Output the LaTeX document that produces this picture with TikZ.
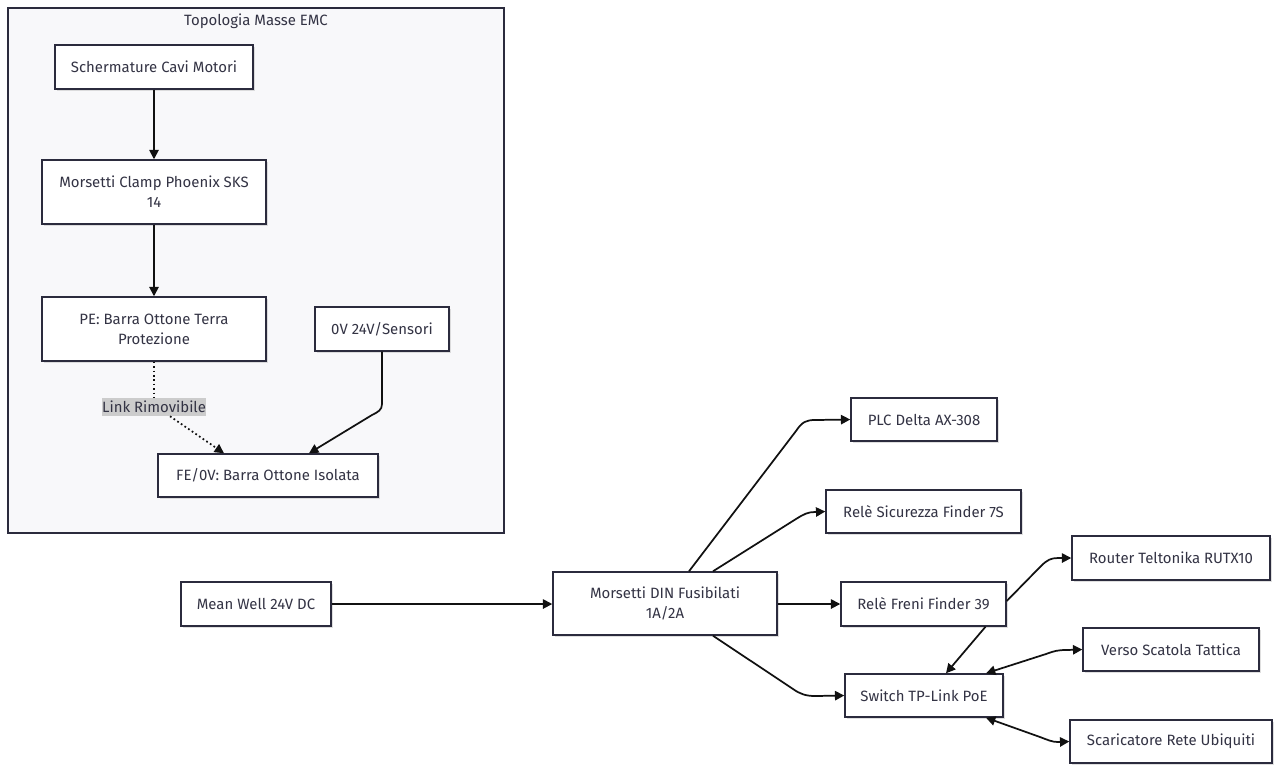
\documentclass[tikz,border=0pt]{standalone}
\usepackage{fontspec}
\setmainfont{Fira Sans}
\usetikzlibrary{calc,arrows.meta,shadows}
\definecolor{edgec}{HTML}{111111}
\definecolor{boxc}{HTML}{2B2B3D}
\definecolor{txtc}{HTML}{333344}
\definecolor{clfill}{HTML}{F8F8FA}
\definecolor{lblbg}{HTML}{CCCCCC}
\tikzset{
  sz/.style 2 args={minimum width=#1*0.75pt, minimum height=#2*0.75pt},
  box/.style={draw=boxc, line width=1.1pt, fill=white, inner sep=0pt, align=center,
    text=txtc, font=\fontsize{11.2}{15}\selectfont,
    drop shadow={shadow xshift=1.2pt, shadow yshift=-1.2pt, fill=black!25, opacity=0.5}},
  cluster/.style={draw=boxc, line width=1.1pt, fill=clfill, inner sep=0pt},
  arr/.style={draw=edgec, line width=1.3pt, -{Triangle[length=7pt,width=7pt]}},
  biarr/.style={draw=edgec, line width=1.3pt, {Triangle[length=7pt,width=7pt]}-{Triangle[length=7pt,width=7pt]}},
  dotarr/.style={draw=edgec, line width=1.3pt, dotted, -{Triangle[length=7pt,width=7pt]}},
  lbl/.style={fill=lblbg, inner sep=0pt, minimum height=13.5pt, text=txtc, font=\fontsize{11.2}{13}\selectfont},
}
\begin{document}
\begin{tikzpicture}[x=0.75pt,y=-0.75pt]
\useasboundingbox (0,0) rectangle (1280,772);
% cluster
\node[cluster, sz={496}{525}] (cl) at (256,270.5) {};
\node[text=txtc, font=\fontsize{11.2}{13}\selectfont, anchor=north] (cltitle) at (256,9) {Topologia Masse EMC};
% cluster nodes
\node[box, sz={198}{44}] (scher) at (154,67) {Schermature Cavi Motori};
\node[box, sz={224}{64}] (clamp) at (154,192) {Morsetti Clamp Phoenix SKS\\14};
\node[box, sz={224}{64}] (pe) at (154,329) {PE: Barra Ottone Terra\\Protezione};
\node[box, sz={134}{44}] (zv) at (382,329) {0V 24V/Sensori};
\node[box, sz={220}{43}] (fe) at (268,475.5) {FE/0V: Barra Ottone Isolata};
% outside nodes
\node[box, sz={150}{44}] (mw) at (256,604) {Mean Well 24V DC};
\node[box, sz={224}{63}] (din) at (665,603.5) {Morsetti DIN Fusibilati\\1A/2A};
\node[box, sz={146}{43}] (plc) at (924,419.5) {PLC Delta AX-308};
\node[box, sz={195}{43}] (sic) at (923.5,511.5) {Relè Sicurezza Finder 7S};
\node[box, sz={165}{44}] (fre) at (923.5,604) {Relè Freni Finder 39};
\node[box, sz={198}{44}] (rout) at (1171,558) {Router Teltonika RUTX10};
\node[box, sz={176}{43}] (verso) at (1171,649.5) {Verso Scatola Tattica};
\node[box, sz={158}{43}] (sw) at (924,695.5) {Switch TP-Link PoE};
\node[box, sz={202}{43}] (scar) at (1171,741.5) {Scaricatore Rete Ubiquiti};
% cluster edges
\draw[arr] (scher) -- (clamp);
\draw[arr] (clamp) -- (pe);
\node[lbl] (lk) at (154,407) {Link Rimovibile};
\draw[draw=edgec, line width=1.3pt, dotted] (pe.south) -- (lk.north);
\draw[dotarr] ($(lk.south)+(16,0)$) -- ($(fe.north)+(-44,0)$);
\draw[arr] (zv.south) -- (382,404) .. controls (382,410) and (378,412) .. (372,415) -- ($(fe.north)+(41,0)$);
% main edges
\draw[arr] (mw.east) -- (din.west |- mw.east);
\draw[arr] ($(din.north)+(24,0)$) -- (796,431) .. controls (802,422) and (806,420) .. (815,420) -- (plc.west);
\draw[arr] ($(din.north)+(48,0)$) -- (796,519) .. controls (804,514) and (808,512) .. (815,512) -- (sic.west);
\draw[arr] (din.east |- fre.west) -- (fre.west);
\draw[arr] ($(din.south)+(48,0)$) -- (793,689) .. controls (800,694) and (806,696) .. (815,696) -- (sw.west);
\draw[arr] ($(fre.east)+(0,-3)$) -- (1041,566) .. controls (1047,560) and (1051,558) .. (1058,558) -- (rout.west);
\draw[arr] ($(fre.south)+(62,0)$) -- ($(sw.north)+(22,0)$);
\draw[biarr] ($(sw.north)+(62,0)$) -- (1046,654) .. controls (1054,651) and (1058,650) .. (1066,650) -- (verso.west);
\draw[biarr] ($(sw.south)+(62,0)$) -- (1040,737) .. controls (1048,740) and (1052,742) .. (1058,742) -- (scar.west);
\end{tikzpicture}
\end{document}
